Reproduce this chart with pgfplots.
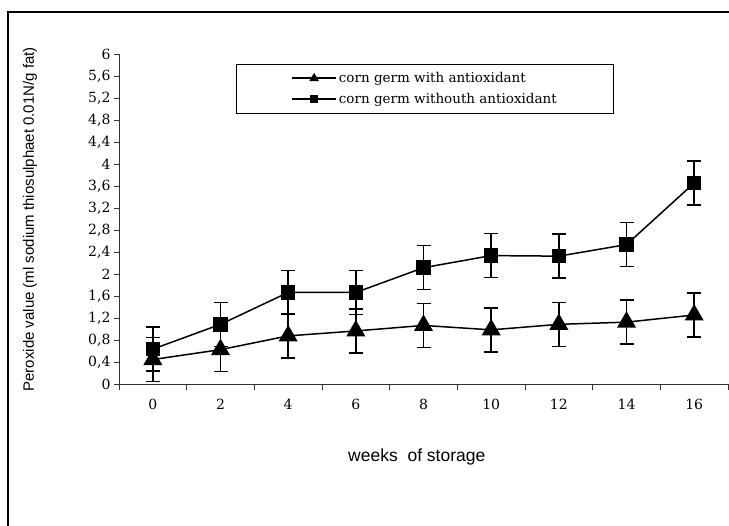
\documentclass[border=0pt]{standalone}
\usepackage{fontspec}
\setmainfont{DejaVu Serif}
\newfontfamily\labelfont{Liberation Sans}
\usepackage{pgfplots}
\pgfplotsset{compat=1.18}

% peroxide value, error +-0.4 on every point
\pgfplotstableread{
wk  pv    err
0   0.45  0.4
2   0.63  0.4
4   0.88  0.4
6   0.97  0.4
8   1.07  0.4
10  0.99  0.4
12  1.09  0.4
14  1.13  0.4
16  1.26  0.4
}\withanti
\pgfplotstableread{
wk  pv    err
0   0.64  0.4
2   1.09  0.4
4   1.67  0.4
6   1.67  0.4
8   2.12  0.4
10  2.34  0.4
12  2.33  0.4
14  2.54  0.4
16  3.66  0.4
}\withoutanti

\begin{document}
\begin{tikzpicture}
\useasboundingbox (0,0) rectangle (729pt,526pt);
\draw[line width=1.4pt] (8pt,0pt) -- (8pt,514pt) -- (729pt,514pt);
\begin{axis}[
  at={(119pt,141.7pt)}, anchor=south west,
  scale only axis, width=609pt, height=330pt,
  xmin=-1, xmax=17, ymin=0, ymax=6,
  axis lines=left,
  axis line style={-, line width=0.8pt, draw=black!80},
  tick align=outside,
  major tick length=5pt,
  minor tick length=6pt,
  xtick={0,2,...,16},
  minor xtick={-1,1,...,17},
  major x tick style={draw=none},
  minor x tick style={draw=black!80, line width=0.8pt},
  major y tick style={draw=black!80, line width=0.8pt},
  ytick={0,0.4,0.8,1.2,1.6,2,2.4,2.8,3.2,3.6,4,4.4,4.8,5.2,5.6,6},
  /pgf/number format/assume math mode=true,
  tick label style={font=\fontsize{14}{16}\selectfont},
  y tick label style={/pgf/number format/.cd, use comma, fixed, precision=1},
  xticklabel style={yshift=-6pt},
  xlabel={weeks\ \ of storage},
  xlabel style={font=\labelfont\fontsize{17.5}{19}\selectfont,
                at={(axis description cs:0.489,-0.22)}, anchor=center},
  ylabel={Peroxide value (ml sodium thiosulphaet 0.01N/g fat)},
  ylabel style={font=\labelfont\fontsize{15}{17}\selectfont,
                at={(axis description cs:-0.146,0.5)}, anchor=center},
  legend style={at={(axis description cs:0.192,0.9706)}, anchor=north west,
                draw=black, line width=0.8pt, inner xsep=55pt, inner ysep=6pt,
                font=\fontsize{13.5}{15}\selectfont, cells={anchor=west},
                row sep=5pt},
  error bars/error bar style={line width=1.4pt},
  error bars/error mark options={rotate=90, line width=1.4pt, mark size=7pt},
]
\addplot[black, line width=1.5pt, mark=triangle*, mark size=9.5pt,
         mark options={fill=black},
         legend image code/.code={
           \draw[black, line width=1.6pt] (0pt,0pt) -- (44pt,0pt);
           \fill[black] plot[mark=triangle*, mark size=4pt] coordinates {(22pt,0pt)};},
         error bars/.cd, y dir=both, y explicit]
  table[x=wk, y=pv, y error=err] {\withanti};
\addlegendentry{corn germ with antioxidant}
\addplot[black, line width=1.5pt, mark=square*, mark size=6.5pt,
         mark options={fill=black},
         legend image code/.code={
           \draw[black, line width=1.6pt] (0pt,0pt) -- (44pt,0pt);
           \fill[black] plot[mark=square*, mark size=3.5pt] coordinates {(22pt,0pt)};},
         error bars/.cd, y dir=both, y explicit]
  table[x=wk, y=pv, y error=err] {\withoutanti};
\addlegendentry{corn germ withouth antioxidant\hspace{9pt}}
\end{axis}
\end{tikzpicture}
\end{document}
